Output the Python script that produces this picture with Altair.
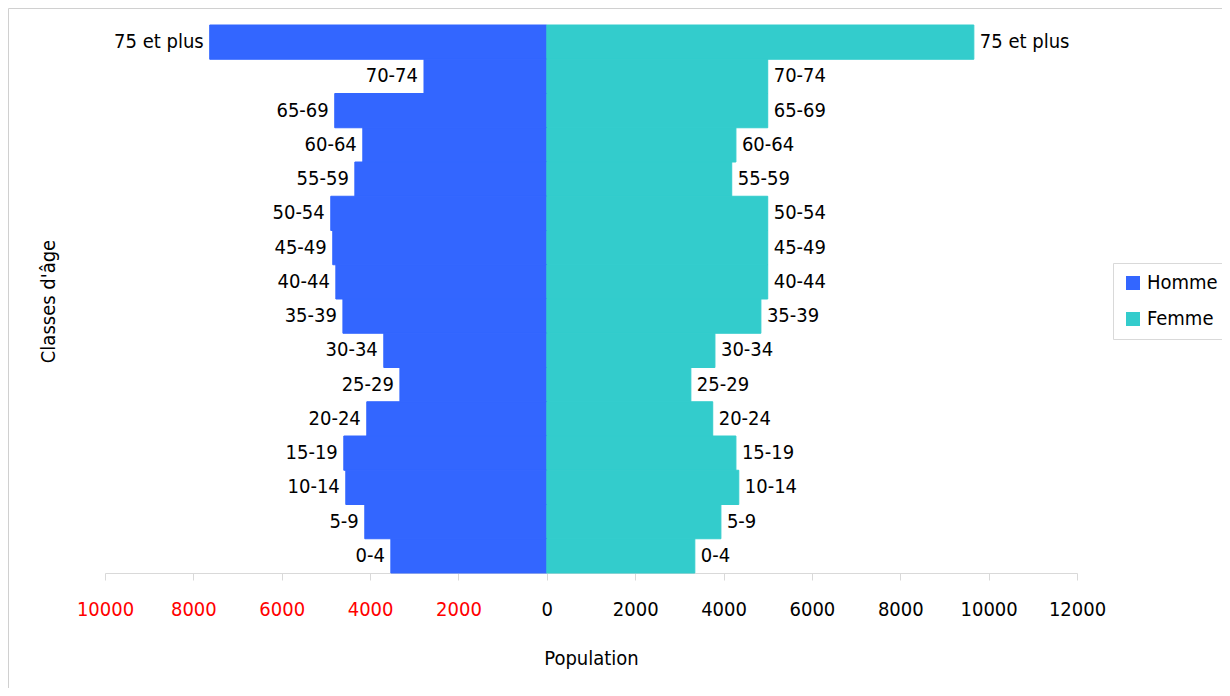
import altair as alt
import pandas as pd

ages = ["75 et plus", "70-74", "65-69", "60-64", "55-59", "50-54", "45-49", "40-44",
        "35-39", "30-34", "25-29", "20-24", "15-19", "10-14", "5-9", "0-4"]
hommes = [7630, 2780, 4800, 4165, 4345, 4890, 4845, 4775,
          4615, 3690, 3325, 4075, 4595, 4550, 4120, 3530]
femmes = [9665, 5000, 5000, 4280, 4185, 5000, 5000, 5000,
          4845, 3805, 3260, 3755, 4280, 4345, 3940, 3350]
sexes = ["Homme", "Femme"]
colors = ["#3366FF", "#33CCCC"]
tick_values = [-10000, -8000, -6000, -4000, -2000, 0, 2000, 4000, 6000, 8000, 10000, 12000]

rows = []
for a, h, f in zip(ages, hommes, femmes):
    rows.append({"age": a, "sexe": "Homme", "pop": -h})
    rows.append({"age": a, "sexe": "Femme", "pop": f})
df = pd.DataFrame(rows)

FONT = "DejaVu Sans Condensed"
W, H = 972, 548

x_enc = alt.X(
    "pop:Q",
    scale=alt.Scale(domain=[-10000, 12000], nice=False, zero=False),
    axis=alt.Axis(
        values=tick_values,
        labelExpr="format(abs(datum.value), 'd')",
        labelColor=alt.condition("datum.value < 0", alt.value("#FF0000"), alt.value("#000000")),
        labelFont=FONT, labelFontSize=20, labelBaseline="middle", labelPadding=29,
        labelFlush=False, labelOverlap=False,
        domainColor="#d9d9d9", tickColor="#d9d9d9", tickSize=7, grid=False,
        title="Population", titleFont=FONT, titleFontSize=20, titleFontWeight="normal",
        titleColor="#000000", titleY=85, titleBaseline="middle",
    ),
)
y_enc = alt.Y(
    "age:N",
    sort=ages,
    scale=alt.Scale(paddingInner=0, paddingOuter=0),
    axis=alt.Axis(
        labels=False, ticks=False, domain=False, grid=False,
        title="Classes d'âge", titleFont=FONT, titleFontSize=20, titleFontWeight="normal",
        titleColor="#000000", titleAngle=-90, titleX=-57, titleY=276,
        titleAlign="center", titleBaseline="middle",
    ),
)

bars = alt.Chart(df).mark_bar(strokeWidth=1).encode(
    x=x_enc,
    y=y_enc,
    color=alt.Color(
        "sexe:N",
        scale=alt.Scale(domain=sexes, range=colors),
        legend=alt.Legend(
            title=None, orient="none", legendX=1008, legendY=238,
            strokeColor="#d9d9d9", padding=10, rowPadding=16,
            symbolType="square", symbolSize=196, symbolStrokeWidth=0,
            labelFont=FONT, labelFontSize=20, labelColor="#000000", labelOffset=4,
        ),
    ),
    stroke=alt.Stroke("sexe:N", scale=alt.Scale(domain=sexes, range=colors), legend=None),
)

left_labels = alt.Chart(df).transform_filter("datum.sexe == 'Homme'").mark_text(
    align="right", baseline="middle", dx=-6, font=FONT, fontSize=20, color="#000000"
).encode(x=alt.X("pop:Q"), y=alt.Y("age:N", sort=ages), text="age:N")

right_labels = alt.Chart(df).transform_filter("datum.sexe == 'Femme'").mark_text(
    align="left", baseline="middle", dx=6, font=FONT, fontSize=20, color="#000000"
).encode(x=alt.X("pop:Q"), y=alt.Y("age:N", sort=ages), text="age:N")

frame = alt.Chart(pd.DataFrame({"k": [0]})).mark_rect(
    fillOpacity=0, stroke="#d0d0d0", strokeWidth=1
).encode(
    x=alt.value(-96.5), x2=alt.value(3000), y=alt.value(-16.5), y2=alt.value(3000)
)

chart = alt.layer(frame, bars, left_labels, right_labels).properties(
    width=W, height=H,
    autosize=alt.AutoSizeParams(type="none"),
    padding={"left": 97, "top": 17, "right": 145, "bottom": 115},
).configure_view(strokeWidth=0)

chart.save("out.html", embed_options={"renderer": "svg", "actions": False})
